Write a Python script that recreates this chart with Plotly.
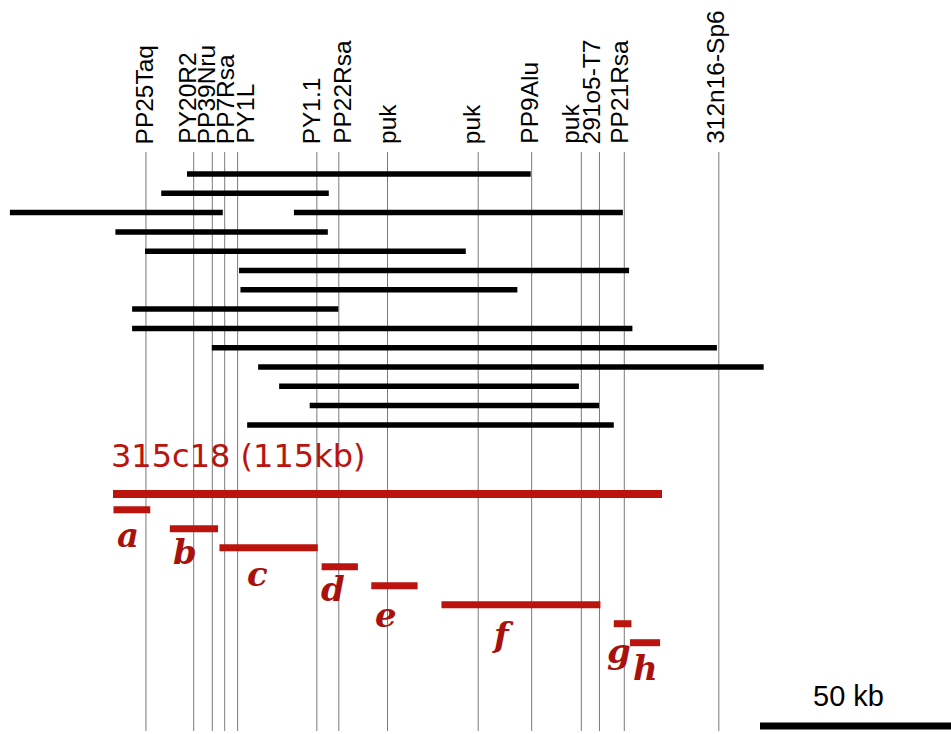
import plotly.graph_objects as go

# ---------------- data (positions in kb) ----------------
marker_names = ["PP25Taq", "PY20R2", "PP39Nru", "PP7Rsa", "PY1L", "PY1.1", "PP22Rsa",
                "puk", "puk", "PP9Alu", "puk", "291o5-T7", "PP21Rsa", "312n16-Sp6"]
marker_kb = [6.9, 16.9, 20.8, 23.4, 26.1, 42.7, 47.3, 57.5, 76.5, 87.7, 98.1, 101.9, 107.1, 126.9]

yac_row = [0, 1, 2, 2, 3, 4, 5, 6, 7, 8, 9, 10, 11, 12, 13]
yac_start = [15.5, 10.1, -21.6, 37.9, 0.5, 6.7, 26.4, 26.7, 4.0, 4.0, 20.7, 30.4, 34.8, 41.2, 28.1]
yac_end = [87.5, 45.2, 23.0, 106.8, 45.0, 73.9, 108.1, 84.7, 47.2, 108.8, 126.5, 136.3, 97.6, 101.8, 104.9]

clone_name = "315c18 (115kb)"
clone_start, clone_end = 0.0, 115.0

frag_names = ["a", "b", "c", "d", "e", "f", "g", "h"]
frag_start = [0.1, 11.9, 22.3, 43.7, 54.1, 68.8, 104.9, 108.3]
frag_end = [7.8, 22.0, 42.9, 51.3, 63.8, 102.1, 108.6, 114.6]

scale_kb = 50
scale_label = "50 kb"

# ---------------- layout constants (pixels) ----------------
W, H = 951, 734
PX_PER_KB = 549 / 115.0
X0_PX = 113.0
x_range = [-X0_PX / PX_PER_KB, (W - X0_PX) / PX_PER_KB]

YAC_Y0, YAC_DY = 174.0, 19.3
CLONE_Y = 494.0
FRAG_Y0, FRAG_DY = 509.7, 19.0
LINE_TOP, LINE_BOT = 152, 731
label_xshift = [-1, -6.5, -5.5, 0.5, 7, -5, 3, -0.5, -7, -3, -11.5, -7.5, -5.5, -4]
# letter label placement (pixel offset of centre from fragment centre, glyph centre px)
letter_dx_px = [-4, -8.5, -11.5, -7, -8, -18, -4, 0]
letter_cy = [535, 552, 574, 589, 615, 635, 651, 668]

RED = "#bb140f"
RED_TXT = "#a8120e"

fig = go.Figure()

# marker lines
lx, ly = [], []
for k in marker_kb:
    lx += [k, k, None]
    ly += [LINE_TOP, LINE_BOT, None]
fig.add_trace(go.Scatter(x=lx, y=ly, mode="lines",
                         line=dict(color="#7a7a7a", width=1), hoverinfo="skip"))

# YAC bars
bx, by = [], []
for r, s, e in zip(yac_row, yac_start, yac_end):
    y = YAC_Y0 + YAC_DY * r
    bx += [s, e, None]
    by += [y, y, None]
fig.add_trace(go.Scatter(x=bx, y=by, mode="lines",
                         line=dict(color="black", width=5.5), hoverinfo="skip"))

# clone bar
fig.add_trace(go.Scatter(x=[clone_start, clone_end], y=[CLONE_Y, CLONE_Y], mode="lines",
                         line=dict(color=RED, width=8), hoverinfo="skip"))

# fragments
fx, fy = [], []
for j, (s, e) in enumerate(zip(frag_start, frag_end)):
    y = FRAG_Y0 + FRAG_DY * j
    fx += [s, e, None]
    fy += [y, y, None]
fig.add_trace(go.Scatter(x=fx, y=fy, mode="lines",
                         line=dict(color=RED, width=7), hoverinfo="skip"))

# scale bar
sb_start = (760 - X0_PX) / PX_PER_KB
fig.add_trace(go.Scatter(x=[sb_start, sb_start + scale_kb], y=[726, 726], mode="lines",
                         line=dict(color="black", width=7), hoverinfo="skip"))

ann = []
for name, k, sh in zip(marker_names, marker_kb, label_xshift):
    ann.append(dict(x=k, y=146, xref="x", yref="y", text=name, showarrow=False,
                    textangle=-90, xanchor="center", yanchor="bottom", xshift=sh,
                    font=dict(family="Liberation Sans, Arial", size=24.5, color="black")))

ann.append(dict(x=clone_start, y=456, xref="x", yref="y", text=clone_name, showarrow=False,
                xanchor="left", yanchor="middle", xshift=-4,
                font=dict(family="DejaVu Sans", size=32, color=RED)))

for name, s, e, dx, cy in zip(frag_names, frag_start, frag_end, letter_dx_px, letter_cy):
    ann.append(dict(x=(s + e) / 2, y=cy, xref="x", yref="y",
                    text="<b><i>%s</i></b>" % name, showarrow=False,
                    xanchor="center", yanchor="middle", xshift=dx,
                    font=dict(family="DejaVu Serif", size=34, color=RED_TXT)))

ann.append(dict(x=sb_start + 18.6, y=696, xref="x", yref="y", text=scale_label,
                showarrow=False, xanchor="center", yanchor="middle",
                font=dict(family="Liberation Sans, Arial", size=29, color="black")))

fig.update_layout(
    width=W, height=H, margin=dict(l=0, r=0, t=0, b=0),
    paper_bgcolor="white", plot_bgcolor="white", showlegend=False,
    xaxis=dict(range=x_range, visible=False, fixedrange=True),
    yaxis=dict(range=[H, 0], visible=False, fixedrange=True),
    annotations=ann,
)

fig.write_html("out.html")
